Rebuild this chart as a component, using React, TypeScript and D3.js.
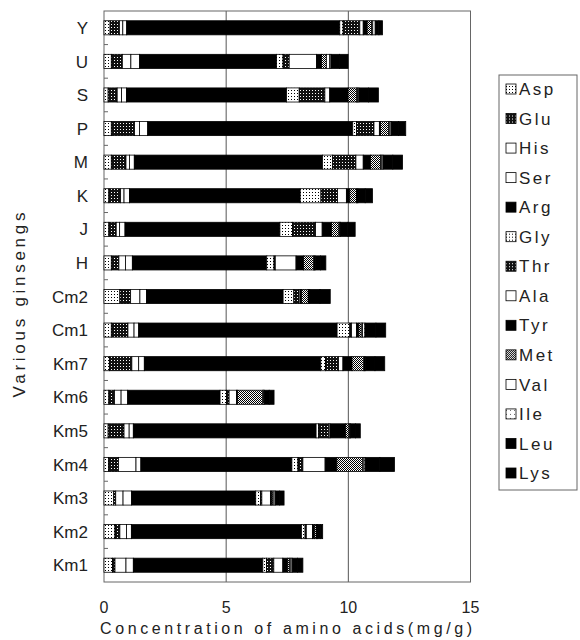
import * as d3 from 'd3'

// ginsengs, top to bottom as drawn
const ginsengs = ['Y', 'U', 'S', 'P', 'M', 'K', 'J', 'H', 'Cm2', 'Cm1', 'Km7', 'Km6', 'Km5', 'Km4', 'Km3', 'Km2', 'Km1']
const aminoAcids = ['Asp', 'Glu', 'His', 'Ser', 'Arg', 'Gly', 'Thr', 'Ala', 'Tyr', 'Met', 'Val', 'Ile', 'Leu', 'Lys']

// mg/g, one value per ginseng in the order above
const asp = [0.25, 0.3, 0.17, 0.3, 0.3, 0.2, 0.2, 0.3, 0.65, 0.3, 0.22, 0.2, 0.17, 0.18, 0.4, 0.45, 0.35]
const glu = [0.38, 0.45, 0.37, 0.95, 0.6, 0.48, 0.3, 0.31, 0.44, 0.68, 0.92, 0.23, 0.65, 0.41, 0.08, 0.2, 0.1]
const his = [0.14, 0.35, 0.18, 0.2, 0.14, 0.14, 0.14, 0.27, 0.38, 0.25, 0.28, 0.27, 0.21, 0.72, 0.3, 0.27, 0.45]
const ser = [0.16, 0.36, 0.2, 0.34, 0.2, 0.22, 0.22, 0.28, 0.27, 0.19, 0.23, 0.27, 0.17, 0.2, 0.35, 0.2, 0.3]
const arg = [8.72, 5.6, 6.55, 8.39, 7.7, 6.99, 6.34, 5.5, 5.59, 8.12, 7.22, 3.78, 7.48, 6.18, 5.08, 6.96, 5.3]
const gly = [0.14, 0.27, 0.52, 0.16, 0.42, 0.85, 0.52, 0.3, 0.44, 0.52, 0.2, 0.27, 0.1, 0.25, 0.2, 0.15, 0.15]
const thr = [0.68, 0.25, 1.05, 0.71, 0.95, 0.68, 0.94, 0.05, 0.22, 0.07, 0.53, 0.1, 0.42, 0.2, 0.05, 0.05, 0.3]
const ala = [0.14, 1.12, 0.2, 0.22, 0.3, 0.36, 0.27, 0.85, 0.05, 0.2, 0.18, 0.3, 0.05, 0.91, 0.35, 0.25, 0.37]
const tyr = [0.16, 0.2, 0.75, 0.05, 0.3, 0.14, 0.38, 0.31, 0.05, 0.1, 0.37, 0.05, 0.64, 0.48, 0.05, 0.08, 0.2]
const met = [0.18, 0.2, 0.34, 0.33, 0.41, 0.27, 0.31, 0.41, 0.27, 0.1, 0.48, 1.03, 0.14, 1.06, 0.05, 0.08, 0.08]
const val = [0.05, 0.14, 0.05, 0.05, 0.05, 0.03, 0.03, 0.03, 0.03, 0.05, 0.03, 0.03, 0.03, 0.05, 0.05, 0.03, 0.05]
const ile = [0.1, 0.05, 0.05, 0.05, 0.05, 0.03, 0.03, 0.03, 0.03, 0.1, 0.03, 0.03, 0.03, 0.05, 0.05, 0.03, 0.05]
const leu = [0.15, 0.35, 0.4, 0.3, 0.4, 0.3, 0.3, 0.22, 0.42, 0.45, 0.4, 0.2, 0.2, 0.6, 0.18, 0.1, 0.22]
const lys = [0.15, 0.35, 0.4, 0.3, 0.4, 0.3, 0.3, 0.22, 0.42, 0.4, 0.4, 0.2, 0.2, 0.6, 0.18, 0.1, 0.22]

const xTicks = [0, 5, 10, 15]
const gridValues = [5, 10]

const series = [asp, glu, his, ser, arg, gly, thr, ala, tyr, met, val, ile, leu, lys]

// scanned print look: patterns instead of colours
const fills: Record<string, string> = {
  Asp: 'url(#light)', Glu: 'url(#dark)', His: '#fff', Ser: '#fff', Arg: '#000',
  Gly: 'url(#light)', Thr: 'url(#dark)', Ala: '#fff', Tyr: '#000', Met: 'url(#grey)',
  Val: '#fff', Ile: 'url(#vlight)', Leu: '#000', Lys: '#000',
}

const font = '"Liberation Sans", Arial, sans-serif'

export default function App() {
  const W = 580
  const H = 640
  const left = 104
  const right = 470.5
  const top = 11
  const bottom = 582

  const rows = ginsengs.map((g, i) => {
    const r: Record<string, any> = { name: g }
    aminoAcids.forEach((a, j) => { r[a] = series[j][i] })
    return r
  })
  const stacked = d3.stack<any>().keys(aminoAcids)(rows)

  const x = d3.scaleLinear().domain([0, 15]).range([left, right])
  const y = d3.scaleBand().domain(ginsengs).range([top, bottom]).paddingInner(0.58).paddingOuter(0.29)
  const step = y.step()

  const legendY = d3.scaleLinear().domain([0, aminoAcids.length - 1]).range([89, 473])

  return (
    <svg width={W} height={H} style={{ position: 'absolute', left: 0, top: 0, background: '#fff' }}>
      <defs>
        <pattern id="light" width="3" height="3" patternUnits="userSpaceOnUse">
          <rect width="3" height="3" fill="#fff" />
          <rect width="1" height="1" fill="#000" />
        </pattern>
        <pattern id="vlight" width="4" height="4" patternUnits="userSpaceOnUse">
          <rect width="4" height="4" fill="#fff" />
          <rect width="1" height="1" fill="#666" />
        </pattern>
        <pattern id="dark" width="3" height="3" patternUnits="userSpaceOnUse">
          <rect width="3" height="3" fill="#111" />
          <rect width="1" height="1" fill="#fff" />
        </pattern>
        <pattern id="grey" width="2" height="2" patternUnits="userSpaceOnUse">
          <rect width="2" height="2" fill="#fff" />
          <rect width="1" height="1" fill="#000" />
          <rect x="1" y="1" width="1" height="1" fill="#000" />
        </pattern>
      </defs>

      {/* gridlines */}
      {gridValues.map(v => (
        <line key={v} x1={x(v)} x2={x(v)} y1={top} y2={bottom} stroke="#555" strokeWidth={1} />
      ))}

      {/* frame */}
      <rect x={left} y={top} width={right - left} height={bottom - top} fill="none" stroke="#666" strokeWidth={1} />

      {/* category ticks */}
      {ginsengs.slice(1).map((g, i) => (
        <line key={g} x1={left} x2={left + 4} y1={top + (i + 1) * step} y2={top + (i + 1) * step} stroke="#666" />
      ))}

      {/* bars */}
      {stacked.map(s => (
        <g key={s.key}>
          {s.map(d => (
            <rect
              key={d.data.name}
              x={x(d[0])}
              y={y(d.data.name)}
              width={x(d[1]) - x(d[0])}
              height={y.bandwidth()}
              fill={fills[s.key]}
              stroke="#000"
              strokeWidth={0.8}
            />
          ))}
        </g>
      ))}

      {/* y labels */}
      {ginsengs.map(g => (
        <text key={g} x={88} y={(y(g) ?? 0) + y.bandwidth() / 2} dy="0.36em" textAnchor="end"
          fontFamily={font} fontSize={17} fill="#222">{g}</text>
      ))}

      {/* x tick labels */}
      {xTicks.map(t => (
        <text key={t} x={x(t)} y={613} textAnchor="middle" fontFamily={font} fontSize={16} fill="#222">{t}</text>
      ))}

      <text x={100} y={634} textLength={372} lengthAdjust="spacing" fontFamily={font} fontSize={16} fill="#222">
        Concentration of amino acids(mg/g)
      </text>

      <text transform="translate(25,305) rotate(-90)" textAnchor="middle" fontFamily={font} fontSize={17}
        textLength={185} lengthAdjust="spacing" fill="#222">Various ginsengs</text>

      {/* legend */}
      <rect x={499} y={75} width={78} height={415} fill="#fff" stroke="#666" />
      {aminoAcids.map((a, i) => (
        <g key={a} transform={`translate(506,${legendY(i)})`}>
          <rect x={0} y={-5} width={10} height={10} fill={fills[a]} stroke="#000" strokeWidth={0.8} />
          <text x={13} y={0} dy="0.36em" fontFamily={font} fontSize={17} letterSpacing={2.5} fill="#222">{a}</text>
        </g>
      ))}
    </svg>
  )
}
